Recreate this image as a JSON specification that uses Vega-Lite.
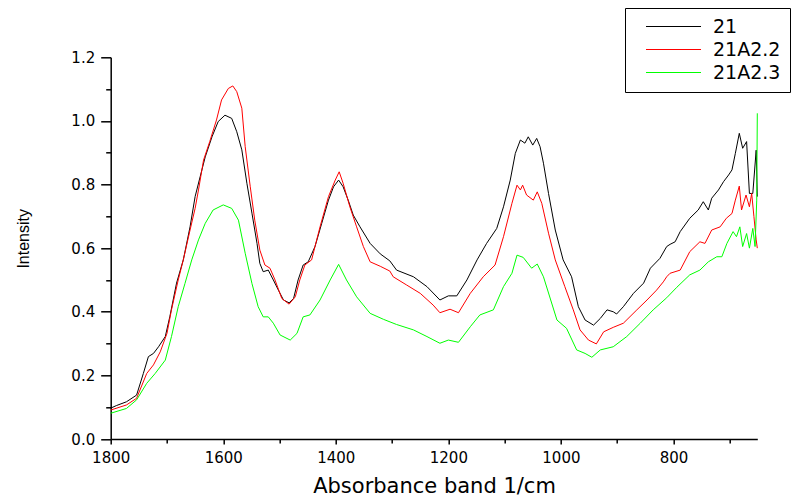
{
"$schema": "https://vega.github.io/schema/vega-lite/v6.json",
"width": 646.6,
"height": 381.7,
"autosize": "none",
"padding": {"left": 110.7, "top": 57.3, "right": 42.7, "bottom": 58},
"background": "white",
"config": {"view": {"stroke": null}, "font": "DejaVu Sans"},
"datasets": {
"d": [
{"w":1800,"v":0.097,"s":"21"},{"w":1790,"v":0.105,"s":"21"},{"w":1772,"v":0.117,"s":"21"},{"w":1754,"v":0.138,"s":"21"},{"w":1742,"v":0.206,"s":"21"},{"w":1733,"v":0.259,"s":"21"},{"w":1724,"v":0.269,"s":"21"},{"w":1715,"v":0.29,"s":"21"},{"w":1703,"v":0.322,"s":"21"},{"w":1695,"v":0.384,"s":"21"},{"w":1683,"v":0.49,"s":"21"},{"w":1671,"v":0.563,"s":"21"},{"w":1659,"v":0.667,"s":"21"},{"w":1650,"v":0.762,"s":"21"},{"w":1641,"v":0.825,"s":"21"},{"w":1632,"v":0.887,"s":"21"},{"w":1620,"v":0.95,"s":"21"},{"w":1609,"v":0.998,"s":"21"},{"w":1597,"v":1.018,"s":"21"},{"w":1585,"v":1.008,"s":"21"},{"w":1576,"v":0.966,"s":"21"},{"w":1567,"v":0.909,"s":"21"},{"w":1558,"v":0.804,"s":"21"},{"w":1549,"v":0.71,"s":"21"},{"w":1540,"v":0.615,"s":"21"},{"w":1535,"v":0.552,"s":"21"},{"w":1529,"v":0.526,"s":"21"},{"w":1520,"v":0.531,"s":"21"},{"w":1511,"v":0.5,"s":"21"},{"w":1502,"v":0.468,"s":"21"},{"w":1493,"v":0.437,"s":"21"},{"w":1483,"v":0.428,"s":"21"},{"w":1475,"v":0.442,"s":"21"},{"w":1467,"v":0.5,"s":"21"},{"w":1458,"v":0.547,"s":"21"},{"w":1449,"v":0.557,"s":"21"},{"w":1437,"v":0.605,"s":"21"},{"w":1425,"v":0.678,"s":"21"},{"w":1413,"v":0.751,"s":"21"},{"w":1404,"v":0.793,"s":"21"},{"w":1395,"v":0.814,"s":"21"},{"w":1387,"v":0.793,"s":"21"},{"w":1378,"v":0.751,"s":"21"},{"w":1369,"v":0.704,"s":"21"},{"w":1357,"v":0.667,"s":"21"},{"w":1339,"v":0.615,"s":"21"},{"w":1321,"v":0.582,"s":"21"},{"w":1304,"v":0.56,"s":"21"},{"w":1292,"v":0.531,"s":"21"},{"w":1262,"v":0.51,"s":"21"},{"w":1238,"v":0.479,"s":"21"},{"w":1215,"v":0.437,"s":"21"},{"w":1200,"v":0.45,"s":"21"},{"w":1185,"v":0.45,"s":"21"},{"w":1167,"v":0.5,"s":"21"},{"w":1149,"v":0.563,"s":"21"},{"w":1132,"v":0.615,"s":"21"},{"w":1114,"v":0.662,"s":"21"},{"w":1102,"v":0.73,"s":"21"},{"w":1090,"v":0.814,"s":"21"},{"w":1081,"v":0.898,"s":"21"},{"w":1072,"v":0.94,"s":"21"},{"w":1064,"v":0.93,"s":"21"},{"w":1058,"v":0.95,"s":"21"},{"w":1050,"v":0.924,"s":"21"},{"w":1043,"v":0.945,"s":"21"},{"w":1037,"v":0.919,"s":"21"},{"w":1031,"v":0.867,"s":"21"},{"w":1022,"v":0.772,"s":"21"},{"w":1010,"v":0.657,"s":"21"},{"w":996,"v":0.563,"s":"21"},{"w":981,"v":0.51,"s":"21"},{"w":969,"v":0.416,"s":"21"},{"w":957,"v":0.374,"s":"21"},{"w":942,"v":0.358,"s":"21"},{"w":930,"v":0.379,"s":"21"},{"w":918,"v":0.406,"s":"21"},{"w":907,"v":0.4,"s":"21"},{"w":901,"v":0.393,"s":"21"},{"w":889,"v":0.416,"s":"21"},{"w":871,"v":0.458,"s":"21"},{"w":853,"v":0.49,"s":"21"},{"w":841,"v":0.537,"s":"21"},{"w":824,"v":0.568,"s":"21"},{"w":812,"v":0.605,"s":"21"},{"w":806,"v":0.612,"s":"21"},{"w":797,"v":0.62,"s":"21"},{"w":788,"v":0.652,"s":"21"},{"w":771,"v":0.694,"s":"21"},{"w":756,"v":0.72,"s":"21"},{"w":747,"v":0.746,"s":"21"},{"w":738,"v":0.72,"s":"21"},{"w":732,"v":0.757,"s":"21"},{"w":720,"v":0.783,"s":"21"},{"w":711,"v":0.809,"s":"21"},{"w":702,"v":0.83,"s":"21"},{"w":696,"v":0.846,"s":"21"},{"w":690,"v":0.898,"s":"21"},{"w":683,"v":0.961,"s":"21"},{"w":677,"v":0.914,"s":"21"},{"w":670,"v":0.935,"s":"21"},{"w":665,"v":0.772,"s":"21"},{"w":659,"v":0.772,"s":"21"},{"w":653,"v":0.908,"s":"21"},{"w":651,"v":0.762,"s":"21"},
{"w":1800,"v":0.091,"s":"21A2.2"},{"w":1772,"v":0.107,"s":"21A2.2"},{"w":1754,"v":0.128,"s":"21A2.2"},{"w":1736,"v":0.206,"s":"21A2.2"},{"w":1724,"v":0.233,"s":"21A2.2"},{"w":1712,"v":0.274,"s":"21A2.2"},{"w":1700,"v":0.332,"s":"21A2.2"},{"w":1692,"v":0.406,"s":"21A2.2"},{"w":1680,"v":0.5,"s":"21A2.2"},{"w":1671,"v":0.563,"s":"21A2.2"},{"w":1659,"v":0.657,"s":"21A2.2"},{"w":1650,"v":0.725,"s":"21A2.2"},{"w":1644,"v":0.783,"s":"21A2.2"},{"w":1635,"v":0.877,"s":"21A2.2"},{"w":1624,"v":0.935,"s":"21A2.2"},{"w":1612,"v":1.003,"s":"21A2.2"},{"w":1603,"v":1.066,"s":"21A2.2"},{"w":1591,"v":1.102,"s":"21A2.2"},{"w":1583,"v":1.11,"s":"21A2.2"},{"w":1576,"v":1.092,"s":"21A2.2"},{"w":1567,"v":1.04,"s":"21A2.2"},{"w":1561,"v":0.919,"s":"21A2.2"},{"w":1552,"v":0.793,"s":"21A2.2"},{"w":1544,"v":0.688,"s":"21A2.2"},{"w":1535,"v":0.594,"s":"21A2.2"},{"w":1526,"v":0.547,"s":"21A2.2"},{"w":1517,"v":0.537,"s":"21A2.2"},{"w":1508,"v":0.5,"s":"21A2.2"},{"w":1496,"v":0.442,"s":"21A2.2"},{"w":1483,"v":0.424,"s":"21A2.2"},{"w":1472,"v":0.447,"s":"21A2.2"},{"w":1464,"v":0.5,"s":"21A2.2"},{"w":1455,"v":0.547,"s":"21A2.2"},{"w":1443,"v":0.563,"s":"21A2.2"},{"w":1428,"v":0.667,"s":"21A2.2"},{"w":1413,"v":0.762,"s":"21A2.2"},{"w":1401,"v":0.814,"s":"21A2.2"},{"w":1394,"v":0.84,"s":"21A2.2"},{"w":1387,"v":0.804,"s":"21A2.2"},{"w":1375,"v":0.73,"s":"21A2.2"},{"w":1363,"v":0.667,"s":"21A2.2"},{"w":1351,"v":0.605,"s":"21A2.2"},{"w":1339,"v":0.557,"s":"21A2.2"},{"w":1321,"v":0.543,"s":"21A2.2"},{"w":1304,"v":0.528,"s":"21A2.2"},{"w":1298,"v":0.51,"s":"21A2.2"},{"w":1274,"v":0.484,"s":"21A2.2"},{"w":1250,"v":0.458,"s":"21A2.2"},{"w":1227,"v":0.421,"s":"21A2.2"},{"w":1215,"v":0.397,"s":"21A2.2"},{"w":1197,"v":0.408,"s":"21A2.2"},{"w":1182,"v":0.397,"s":"21A2.2"},{"w":1161,"v":0.458,"s":"21A2.2"},{"w":1138,"v":0.51,"s":"21A2.2"},{"w":1117,"v":0.547,"s":"21A2.2"},{"w":1102,"v":0.636,"s":"21A2.2"},{"w":1087,"v":0.741,"s":"21A2.2"},{"w":1078,"v":0.798,"s":"21A2.2"},{"w":1072,"v":0.783,"s":"21A2.2"},{"w":1068,"v":0.798,"s":"21A2.2"},{"w":1061,"v":0.767,"s":"21A2.2"},{"w":1049,"v":0.751,"s":"21A2.2"},{"w":1042,"v":0.777,"s":"21A2.2"},{"w":1034,"v":0.741,"s":"21A2.2"},{"w":1022,"v":0.647,"s":"21A2.2"},{"w":1010,"v":0.563,"s":"21A2.2"},{"w":993,"v":0.479,"s":"21A2.2"},{"w":978,"v":0.406,"s":"21A2.2"},{"w":966,"v":0.343,"s":"21A2.2"},{"w":951,"v":0.311,"s":"21A2.2"},{"w":937,"v":0.299,"s":"21A2.2"},{"w":924,"v":0.337,"s":"21A2.2"},{"w":907,"v":0.351,"s":"21A2.2"},{"w":889,"v":0.364,"s":"21A2.2"},{"w":865,"v":0.406,"s":"21A2.2"},{"w":847,"v":0.437,"s":"21A2.2"},{"w":830,"v":0.468,"s":"21A2.2"},{"w":818,"v":0.494,"s":"21A2.2"},{"w":812,"v":0.51,"s":"21A2.2"},{"w":806,"v":0.521,"s":"21A2.2"},{"w":788,"v":0.531,"s":"21A2.2"},{"w":771,"v":0.589,"s":"21A2.2"},{"w":753,"v":0.62,"s":"21A2.2"},{"w":744,"v":0.615,"s":"21A2.2"},{"w":732,"v":0.657,"s":"21A2.2"},{"w":717,"v":0.667,"s":"21A2.2"},{"w":706,"v":0.694,"s":"21A2.2"},{"w":696,"v":0.709,"s":"21A2.2"},{"w":690,"v":0.751,"s":"21A2.2"},{"w":683,"v":0.795,"s":"21A2.2"},{"w":679,"v":0.72,"s":"21A2.2"},{"w":671,"v":0.767,"s":"21A2.2"},{"w":665,"v":0.73,"s":"21A2.2"},{"w":661,"v":0.772,"s":"21A2.2"},{"w":657,"v":0.699,"s":"21A2.2"},{"w":653,"v":0.626,"s":"21A2.2"},{"w":651,"v":0.6,"s":"21A2.2"},
{"w":1800,"v":0.081,"s":"21A2.3"},{"w":1772,"v":0.096,"s":"21A2.3"},{"w":1754,"v":0.123,"s":"21A2.3"},{"w":1736,"v":0.175,"s":"21A2.3"},{"w":1721,"v":0.206,"s":"21A2.3"},{"w":1703,"v":0.248,"s":"21A2.3"},{"w":1692,"v":0.322,"s":"21A2.3"},{"w":1680,"v":0.416,"s":"21A2.3"},{"w":1668,"v":0.489,"s":"21A2.3"},{"w":1656,"v":0.563,"s":"21A2.3"},{"w":1644,"v":0.626,"s":"21A2.3"},{"w":1632,"v":0.678,"s":"21A2.3"},{"w":1618,"v":0.72,"s":"21A2.3"},{"w":1600,"v":0.736,"s":"21A2.3"},{"w":1585,"v":0.725,"s":"21A2.3"},{"w":1573,"v":0.688,"s":"21A2.3"},{"w":1561,"v":0.584,"s":"21A2.3"},{"w":1549,"v":0.489,"s":"21A2.3"},{"w":1538,"v":0.416,"s":"21A2.3"},{"w":1529,"v":0.384,"s":"21A2.3"},{"w":1520,"v":0.384,"s":"21A2.3"},{"w":1511,"v":0.364,"s":"21A2.3"},{"w":1499,"v":0.327,"s":"21A2.3"},{"w":1481,"v":0.311,"s":"21A2.3"},{"w":1469,"v":0.332,"s":"21A2.3"},{"w":1458,"v":0.384,"s":"21A2.3"},{"w":1446,"v":0.39,"s":"21A2.3"},{"w":1428,"v":0.437,"s":"21A2.3"},{"w":1410,"v":0.5,"s":"21A2.3"},{"w":1395,"v":0.549,"s":"21A2.3"},{"w":1381,"v":0.5,"s":"21A2.3"},{"w":1363,"v":0.447,"s":"21A2.3"},{"w":1339,"v":0.395,"s":"21A2.3"},{"w":1315,"v":0.376,"s":"21A2.3"},{"w":1292,"v":0.36,"s":"21A2.3"},{"w":1262,"v":0.343,"s":"21A2.3"},{"w":1238,"v":0.322,"s":"21A2.3"},{"w":1215,"v":0.301,"s":"21A2.3"},{"w":1200,"v":0.311,"s":"21A2.3"},{"w":1182,"v":0.304,"s":"21A2.3"},{"w":1161,"v":0.353,"s":"21A2.3"},{"w":1144,"v":0.39,"s":"21A2.3"},{"w":1120,"v":0.406,"s":"21A2.3"},{"w":1102,"v":0.479,"s":"21A2.3"},{"w":1087,"v":0.521,"s":"21A2.3"},{"w":1078,"v":0.578,"s":"21A2.3"},{"w":1067,"v":0.571,"s":"21A2.3"},{"w":1052,"v":0.537,"s":"21A2.3"},{"w":1042,"v":0.55,"s":"21A2.3"},{"w":1031,"v":0.51,"s":"21A2.3"},{"w":1007,"v":0.374,"s":"21A2.3"},{"w":990,"v":0.348,"s":"21A2.3"},{"w":972,"v":0.28,"s":"21A2.3"},{"w":957,"v":0.269,"s":"21A2.3"},{"w":945,"v":0.257,"s":"21A2.3"},{"w":930,"v":0.28,"s":"21A2.3"},{"w":907,"v":0.29,"s":"21A2.3"},{"w":883,"v":0.322,"s":"21A2.3"},{"w":859,"v":0.364,"s":"21A2.3"},{"w":836,"v":0.406,"s":"21A2.3"},{"w":812,"v":0.444,"s":"21A2.3"},{"w":794,"v":0.477,"s":"21A2.3"},{"w":771,"v":0.516,"s":"21A2.3"},{"w":753,"v":0.531,"s":"21A2.3"},{"w":738,"v":0.557,"s":"21A2.3"},{"w":723,"v":0.573,"s":"21A2.3"},{"w":714,"v":0.573,"s":"21A2.3"},{"w":705,"v":0.615,"s":"21A2.3"},{"w":694,"v":0.652,"s":"21A2.3"},{"w":688,"v":0.636,"s":"21A2.3"},{"w":682,"v":0.667,"s":"21A2.3"},{"w":677,"v":0.605,"s":"21A2.3"},{"w":670,"v":0.646,"s":"21A2.3"},{"w":665,"v":0.6,"s":"21A2.3"},{"w":659,"v":0.662,"s":"21A2.3"},{"w":655,"v":0.605,"s":"21A2.3"},{"w":652,"v":0.751,"s":"21A2.3"},{"w":651,"v":1.024,"s":"21A2.3"}
]
},
"data": {"name": "d"},
"layer": [
{
"mark": {"type": "line", "strokeWidth": 1},
"encoding": {
"x": {"field": "w", "type": "quantitative",
"scale": {"domain": [651, 1800], "reverse": true, "nice": false, "zero": false},
"axis": {"title": "Absorbance band 1/cm", "values": [1800, 1600, 1400, 1200, 1000, 800], "format": "d", "grid": false, "labelFlush": false, "labelOverlap": false,
"domainColor": "black", "domainWidth": 1.5, "tickColor": "black", "tickWidth": 1.5, "tickSize": 5,
"labelFont": "DejaVu Sans", "labelFontSize": 15, "labelColor": "black", "labelPadding": 6,
"titleFont": "DejaVu Sans", "titleFontSize": 21, "titleFontWeight": "normal", "titleColor": "black", "titlePadding": 10}},
"y": {"field": "v", "type": "quantitative",
"scale": {"domain": [0, 1.2], "nice": false},
"axis": {"title": "Intensity", "values": [0, 0.2, 0.4, 0.6, 0.8, 1.0, 1.2], "format": ".1f", "grid": false, "labelFlush": false, "labelOverlap": false,
"domainColor": "black", "domainWidth": 1.5, "tickColor": "black", "tickWidth": 1.5, "tickSize": 10,
"labelFont": "DejaVu Sans", "labelFontSize": 15, "labelColor": "black", "labelPadding": 6,
"titleFont": "Liberation Sans", "titleFontSize": 16, "titleFontWeight": "normal", "titleColor": "black",
"titleX": -87, "titleY": 181, "titleBaseline": "middle"}},
"color": {"field": "s", "type": "nominal",
"scale": {"domain": ["21", "21A2.2", "21A2.3"], "range": ["#000000", "#ff0000", "#00ff00"]},
"legend": {"orient": "none", "legendX": 514.3, "legendY": -49.3, "title": null,
"strokeColor": "black", "fillColor": "white", "padding": 9, "rowPadding": 3,
"labelFont": "DejaVu Sans", "labelFontSize": 19, "labelColor": "black",
"symbolType": "M-5,0H5", "symbolSize": 121, "symbolStrokeWidth": 1, "symbolOffset": 30, "labelOffset": 30}}
}
},
{
"mark": {"type": "line", "opacity": 0},
"encoding": {
"x": {"field": "w", "type": "quantitative",
"axis": {"title": null, "orient": "bottom", "values": [1700, 1500, 1300, 1100, 900, 700], "labels": false, "domain": false, "grid": false, "tickColor": "black", "tickWidth": 1.5, "tickSize": 4}},
"y": {"field": "v", "type": "quantitative",
"axis": {"title": null, "orient": "left", "values": [0.1, 0.3, 0.5, 0.7, 0.9, 1.1], "labels": false, "domain": false, "grid": false, "tickColor": "black", "tickWidth": 1.5, "tickSize": 5}}
}
}
],
"resolve": {"axis": {"x": "independent", "y": "independent"}}
}
